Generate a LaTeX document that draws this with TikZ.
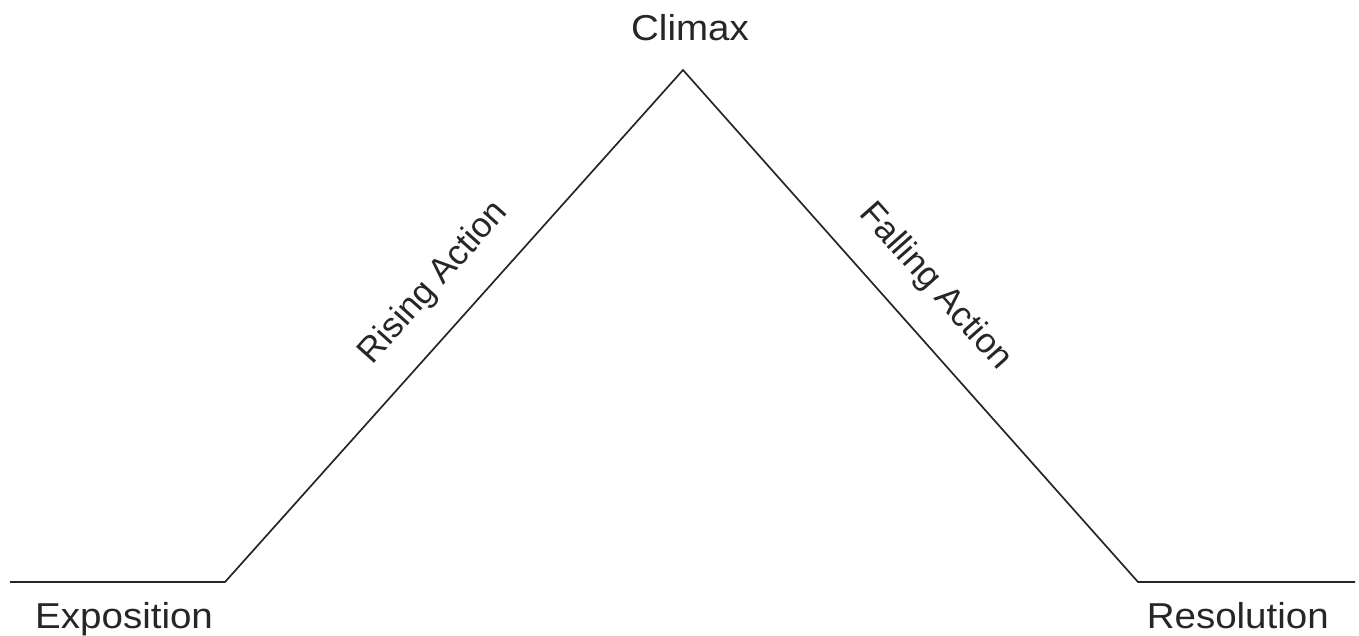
\documentclass[tikz,border=0pt]{standalone}
\usepackage{fontspec}
\setmainfont{Liberation Sans}
\begin{document}
\begin{tikzpicture}[x=1pt,y=-1pt,
  plotline/.style={line width=1.7pt,black!85,line join=miter},
  lbl/.style={font=\fontsize{36}{40}\selectfont,inner sep=0pt,text=black!85,xscale=1.07},
  slbl/.style={font=\fontsize{35}{38}\selectfont,inner sep=0pt,text=black!85}]
\useasboundingbox (0,0) rectangle (1359,635);
\coordinate (e0) at (10,582);
\coordinate (e1) at (225,582);
\coordinate (cl) at (683,70);
\coordinate (r1) at (1138,582);
\coordinate (r2) at (1355,582);
\draw[plotline] (e0) -- (e1) -- (cl) -- (r1) -- (r2);
\node[lbl,anchor=base] (climax) at (690,40) {Climax};
\node[lbl,anchor=base west] (expo) at (35,628) {Exposition};
\node[lbl,anchor=base east] (reso) at (1329,628) {Resolution};
\node[slbl,rotate=48.2] (rising) at (434,283) {Rising Action};
\node[slbl,rotate=-48.4] (falling) at (935,287) {Falling Action};
\end{tikzpicture}
\end{document}
